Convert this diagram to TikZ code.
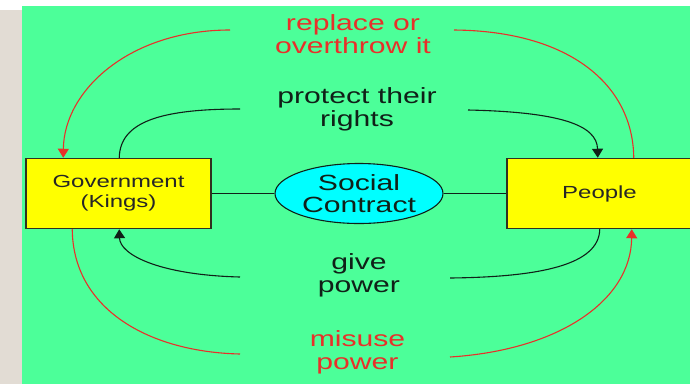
\documentclass[tikz,border=0pt]{standalone}
\usepackage{fontspec}
\setmainfont{Liberation Sans}[FakeStretch=1.37]
\usetikzlibrary{shapes.geometric,arrows.meta}
\definecolor{bggreen}{HTML}{4CFF99}
\definecolor{stripgrey}{HTML}{E2DCD4}
\definecolor{boxyellow}{HTML}{FFFF00}
\definecolor{ellcyan}{HTML}{00FFFF}
\definecolor{linered}{HTML}{E8302A}
\definecolor{lineblack}{HTML}{102018}
\definecolor{boxedge}{HTML}{303020}
\tikzset{
  box/.style={draw=boxedge, line width=1.5pt, fill=boxyellow, minimum width=185pt, minimum height=70pt, inner sep=0pt, align=center, font=\fontsize{17.5pt}{20pt}\selectfont, text=black!85},
  contract/.style={ellipse, draw=lineblack, line width=1.1pt, fill=ellcyan, minimum width=168pt, minimum height=60pt, inner sep=0pt, align=center, font=\fontsize{22pt}{22pt}\selectfont, text=lineblack},
  lbl/.style={align=center, inner sep=0pt, font=\fontsize{22pt}{23pt}\selectfont},
  redlbl/.style={lbl, text=linered},
  blacklbl/.style={lbl, text=lineblack},
  redarc/.style={draw=linered, line width=1.1pt},
  blackarc/.style={draw=lineblack, line width=1.1pt},
  tip/.style={-{Triangle[width=11pt,length=9pt]}},
  link/.style={draw=lineblack, line width=1.1pt}
}
\begin{document}
\begin{tikzpicture}[x=1pt,y=-1pt]
\fill[white] (0,0) rectangle (690,384);
\fill[stripgrey] (0,10) rectangle (22,384);
\fill[bggreen] (22,6) rectangle (690,384);
\useasboundingbox (0,0) rectangle (690,384);

\node[box] (gov) at (118.5,193.5) {Government\\(Kings)};
\node[box] (people) at (599.5,193.5) {People};
\node[contract] (sc) at (359,193.5) {Social\\Contract};

\draw[link] (gov.east) -- (sc.west);
\draw[link] (sc.east) -- (people.west);

\node[redlbl] (replace) at (353,34) {replace or\\overthrow it};
\node[blacklbl] (protect) at (357,109) {protect their\\rights};
\node[blacklbl] (give) at (359,275) {give\\power};
\node[redlbl] (misuse) at (357.5,352) {misuse\\power};

\coordinate (rtl) at (230,30);
\coordinate (rtr) at (454,30);
\coordinate (btl) at (240,109);
\coordinate (btr) at (468,110);
\coordinate (bbl) at (240,277);
\coordinate (bbr) at (450,278);
\coordinate (rbl) at (240,354);
\coordinate (rbr) at (450,357);

% replace or overthrow it
\draw[redarc, tip] (rtl) .. controls (130,30) and (64,90) .. ([xshift=38pt]gov.north west);
\draw[redarc] (rtr) .. controls (570,31) and (633,85) .. ([xshift=-59pt]people.north east);
% protect their rights
\draw[blackarc] ([xshift=94pt]gov.north west) .. controls (120,122) and (160,109) .. (btl);
\draw[blackarc, tip] (btr) .. controls (560,112) and (597,125) .. ([xshift=-95pt]people.north east);
% give power
\draw[blackarc, tip] (bbl) .. controls (160,275) and (120,255) .. ([xshift=94pt]gov.south west);
\draw[blackarc] ([xshift=-93pt]people.south east) .. controls (599,265) and (540,277) .. (bbr);
% misuse power
\draw[redarc] ([xshift=47pt]gov.south west) .. controls (73,310) and (150,352) .. (rbl);
\draw[redarc, tip] (rbr) .. controls (560,350) and (631,300) .. ([xshift=-61pt]people.south east);
\end{tikzpicture}
\end{document}
